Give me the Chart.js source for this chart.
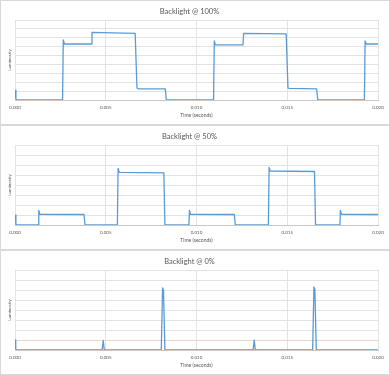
<!DOCTYPE html>
<html>
<head>
<meta charset="utf-8">
<script src="https://cdn.jsdelivr.net/npm/chart.js@4.4.0/dist/chart.umd.min.js"></script>
<style>
  html, body { margin: 0; padding: 0; background: #fff; }
  .panel { position: relative; width: 388px; height: 123px; border: 1px solid #d9d9d9; }
  canvas { display: block; }
</style>
</head>
<body>
<div class="panel"><canvas id="c100" width="388" height="123"></canvas></div>
<div class="panel"><canvas id="c50" width="388" height="123"></canvas></div>
<div class="panel"><canvas id="c0" width="388" height="123"></canvas></div>
<script>
// x tick labels (seconds)
const xTicks = [0, 0.005, 0.010, 0.015, 0.020];

// Backlight @ 100%
const t100 = [0, 0.00005, 0.0001, 0.00262, 0.00266, 0.00272, 0.00420, 0.00424, 0.00662, 0.00672, 0.00680, 0.00828, 0.00834,
  0.01094, 0.01098, 0.01104, 0.01256, 0.01260, 0.01494, 0.01504, 0.01512, 0.01662, 0.01668, 0.01925, 0.01929, 0.01935, 0.020];
const lum100 = [1.1, 0.1, 0, 0, 6.75, 6.3, 6.3, 7.6, 7.5, 1.35, 1.25, 1.25, 0,
  0, 6.65, 6.2, 6.2, 7.5, 7.45, 1.35, 1.3, 1.25, 0, 0, 6.65, 6.3, 6.3];

// Backlight @ 50%
const t50 = [0, 0.00005, 0.0001, 0.00128, 0.00131, 0.00137, 0.00380, 0.00386, 0.00564, 0.00568, 0.00574, 0.00820, 0.00826,
  0.00958, 0.00961, 0.00967, 0.01208, 0.01214, 0.01396, 0.01400, 0.01406, 0.01650, 0.01656, 0.01790, 0.01793, 0.01799, 0.020];
const lum50 = [1.0, 0.05, 0, 0, 1.45, 1.07, 1.05, 0, 0, 5.65, 5.27, 5.22, 0,
  0, 1.45, 1.07, 1.05, 0, 0, 5.75, 5.4, 5.35, 0, 0, 1.45, 1.07, 1.05];

// Backlight @ 0%
const t0 = [0, 0.00004, 0.0001, 0.00480, 0.00486, 0.00492, 0.00806, 0.00813, 0.00818, 0.00826,
  0.01312, 0.01318, 0.01324, 0.01640, 0.01647, 0.01652, 0.01660, 0.020];
const lum0 = [1.0, 0.1, 0, 0, 0.95, 0, 0, 6.2, 6.0, 0,
  0, 1.0, 0, 0, 6.3, 6.1, 0, 0];
// faint orange reference line in the 0% chart
const ref0 = [0.95, 0.95];

const BLUE = '#5b9bd5';
const GRID = '#e3e3e3';
const TEXT = '#595959';

function points(xs, ys) {
  return xs.map((x, i) => ({ x: x, y: ys[i] }));
}

function makeChart(id, title, datasets, yMax) {
  const ctx = document.getElementById(id).getContext('2d');
  return new Chart(ctx, {
    type: 'line',
    data: { datasets },
    options: {
      responsive: false,
      animation: false,
      events: [],
      layout: { padding: { left: 0, right: 11, top: 0, bottom: 6 } },
      elements: { point: { radius: 0 }, line: { tension: 0, borderJoinStyle: 'round' } },
      plugins: {
        legend: { display: false },
        tooltip: { enabled: false },
        title: {
          display: true,
          text: title,
          color: TEXT,
          font: { family: 'Lato', size: 7.5, weight: 'normal' },
          padding: { top: 6, bottom: 4 }
        }
      },
      scales: {
        x: {
          type: 'linear',
          min: 0,
          max: 0.02,
          afterBuildTicks: (s) => { s.ticks = xTicks.map(v => ({ value: v })); },
          afterFit: (s) => { s.height = 18; },
          ticks: {
            color: TEXT,
            font: { family: 'Lato', size: 4.5 },
            padding: 5,
            maxRotation: 0,
            callback: (v) => v.toFixed(3)
          },
          grid: { color: GRID, drawTicks: false },
          border: { color: '#c8c8c8' },
          title: {
            display: true,
            text: 'Time (seconds)',
            color: TEXT,
            font: { family: 'Lato', size: 5 },
            padding: { top: 1, bottom: 0 }
          }
        },
        y: {
          min: 0,
          max: yMax,
          afterFit: (s) => { s.width = 14; },
          ticks: { display: false, stepSize: 1 },
          grid: { color: GRID, drawTicks: false },
          border: { display: false },
          title: {
            display: true,
            text: 'Luminosity',
            color: TEXT,
            font: { family: 'Lato', size: 4.5 },
            padding: { top: 6, bottom: 0 }
          }
        }
      }
    }
  });
}

makeChart('c100', 'Backlight @ 100%', [
  { data: points(t100, lum100), borderColor: BLUE, borderWidth: 1.3 }
], 9);

makeChart('c50', 'Backlight @ 50%', [
  { data: points(t50, lum50), borderColor: BLUE, borderWidth: 1.3 }
], 8);

makeChart('c0', 'Backlight @ 0%', [
  { data: points(t0, lum0), borderColor: BLUE, borderWidth: 1.3 },
  { data: points([0, 0.02], ref0), borderColor: 'rgba(244,200,170,0.7)', borderWidth: 0.8 }
], 8);
</script>
</body>
</html>
